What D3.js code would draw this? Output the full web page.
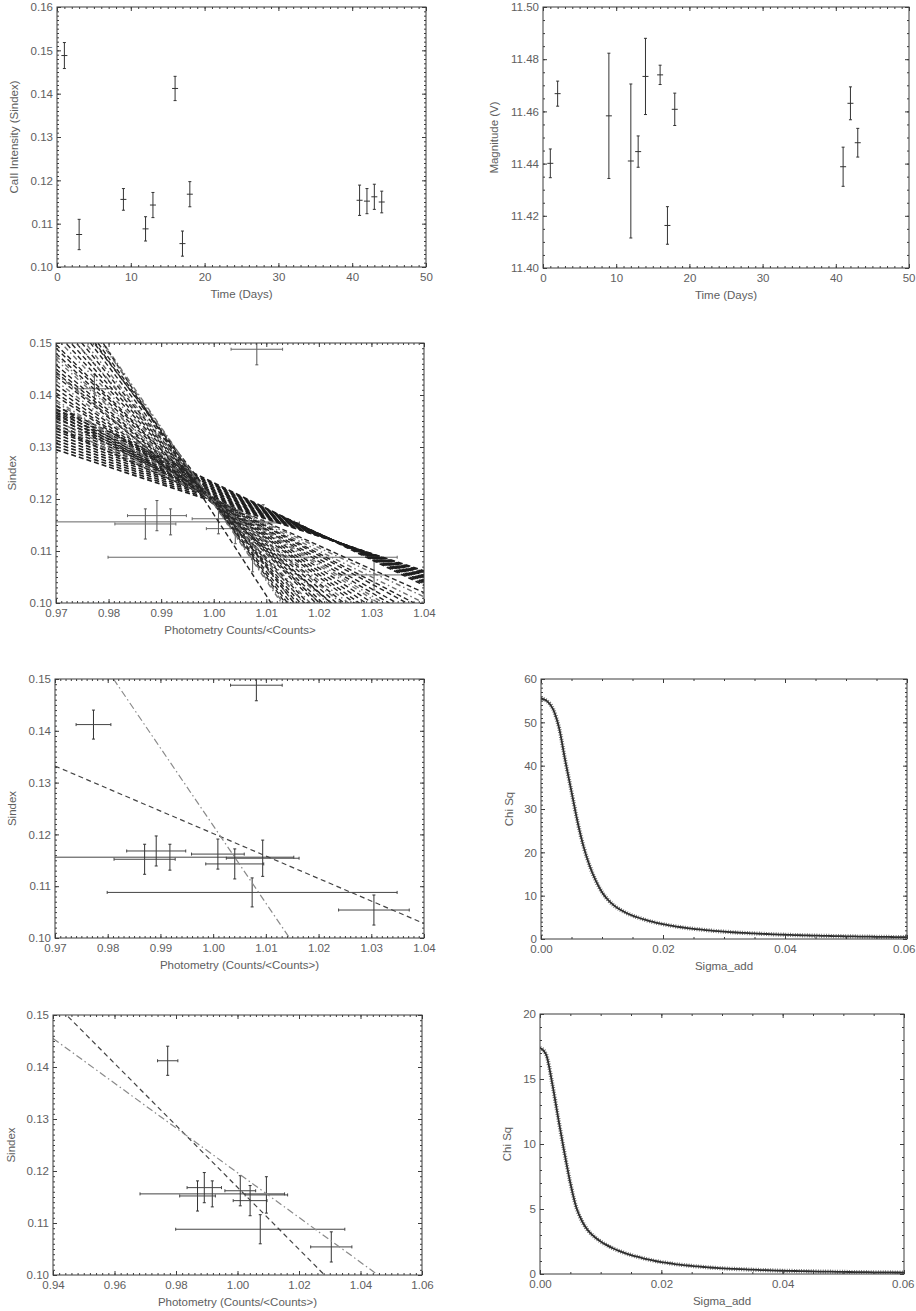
<!DOCTYPE html>
<html>
<head>
<meta charset="utf-8">
<script src="https://cdn.jsdelivr.net/npm/d3@7"></script>
<style>
  html, body { margin: 0; padding: 0; background: #fff; overflow: hidden; }
  svg { display: block; }
</style>
</head>
<body>
<script>
// ---------- Ca II S-index time series ----------
const sTime  = [1, 3, 9, 12, 13, 16, 17, 18, 41, 42, 43, 44];
const sIndex = [0.1488, 0.1075, 0.1156, 0.1088, 0.1143, 0.1412, 0.1054, 0.1168, 0.1154, 0.1152, 0.1162, 0.1150];
const sErr   = [0.0030, 0.0035, 0.0025, 0.0028, 0.0029, 0.0028, 0.0029, 0.0029, 0.0035, 0.0029, 0.0029, 0.0025];

// ---------- V magnitude time series ----------
const vTime = [1, 2, 9, 12, 13, 14, 16, 17, 18, 41, 42, 43];
const vMag  = [11.4401, 11.4668, 11.4583, 11.4410, 11.4446, 11.4734, 11.4740, 11.4163, 11.4608, 11.4388, 11.4631, 11.4480];
const vErr  = [0.0055, 0.0048, 0.0240, 0.0295, 0.0060, 0.0146, 0.0037, 0.0072, 0.0062, 0.0075, 0.0063, 0.0055];

// ---------- S-index vs relative photometry (nights with both) ----------
const photRatio = [1.0082, 0.9918, 1.0074, 1.0041, 0.9773, 1.0305, 0.9892, 1.0094, 0.9870, 1.0009];
const photErr   = [0.0049, 0.0235, 0.0275, 0.0055, 0.0033, 0.0067, 0.0056, 0.0069, 0.0058, 0.0050];
const photS     = [0.1488, 0.1156, 0.1088, 0.1143, 0.1412, 0.1054, 0.1168, 0.1154, 0.1152, 0.1162];
const photSErr  = [0.0030, 0.0025, 0.0028, 0.0029, 0.0028, 0.0029, 0.0029, 0.0035, 0.0029, 0.0029];
// the 0.149 outlier is left out of the second fit
const keepSecondFit = [false, true, true, true, true, true, true, true, true, true];

// ---------- trial fits: S-index at x = 0.97 and at x = 1.04 ----------
// first 15 are the tight shallow band, the rest fan out through x ~ 1.00
const trialLeft = [
  0.1295, 0.1301, 0.1307, 0.1313, 0.1319, 0.1325, 0.1331, 0.1337, 0.1343, 0.1349,
  0.1355, 0.1361, 0.1367, 0.1373, 0.1379,
  0.1336, 0.1351, 0.1365, 0.1380, 0.1390, 0.1404, 0.1412, 0.1427, 0.1436, 0.1450,
  0.1468, 0.1480, 0.1497, 0.1510, 0.1532, 0.1545, 0.1570, 0.1586, 0.1612, 0.1633,
  0.1640, 0.1444, 0.1475, 0.1520, 0.1560,
  0.1342, 0.1358, 0.1372, 0.1386, 0.1398, 0.1420, 0.1441, 0.1458, 0.1490, 0.1545,
  0.1595, 0.1602, 0.1625
];
const trialRight = [
  0.1062, 0.1060, 0.1059, 0.1057, 0.1055, 0.1053, 0.1052, 0.1050, 0.1048, 0.1046,
  0.1044, 0.1042, 0.1040, 0.1037, 0.1034,
  0.1020, 0.1000, 0.0982, 0.0960, 0.0945, 0.0924, 0.0912, 0.0890, 0.0879, 0.0860,
  0.0834, 0.0818, 0.0793, 0.0772, 0.0744, 0.0724, 0.0690, 0.0667, 0.0630, 0.0600,
  0.0545, 0.0850, 0.0812, 0.0760, 0.0705,
  0.1012, 0.0990, 0.0970, 0.0952, 0.0935, 0.0902, 0.0872, 0.0846, 0.0805, 0.0735,
  0.0675, 0.0645, 0.0612
];
const trialX = [0.97, 1.04];

// ---------- final fits: [x1, y1, x2, y2] ----------
const fitAllDashed   = [0.9700, 0.1332, 1.0400, 0.1028];
const fitAllDashDot  = [0.9811, 0.1500, 1.0145, 0.1000];
const fitCutDashed   = [0.9449, 0.1497, 1.0283, 0.1000];
const fitCutDashDot  = [0.9400, 0.1455, 1.0457, 0.1000];

// ---------- chi-square vs added scatter ----------
const sigmaAdd = [
  0.000, 0.001, 0.002, 0.003, 0.004, 0.005, 0.006, 0.007, 0.008, 0.009,
  0.010, 0.011, 0.012, 0.013, 0.014, 0.015, 0.016, 0.017, 0.018, 0.019,
  0.020, 0.021, 0.022, 0.023, 0.024, 0.025, 0.026, 0.027, 0.028, 0.029,
  0.030, 0.031, 0.032, 0.033, 0.034, 0.035, 0.036, 0.037, 0.038, 0.039,
  0.040, 0.041, 0.042, 0.043, 0.044, 0.045, 0.046, 0.047, 0.048, 0.049,
  0.050, 0.051, 0.052, 0.053, 0.054, 0.055, 0.056, 0.057, 0.058, 0.059, 0.060
];
const chiAll = [
  55.5, 54.9, 53.0, 48.5, 41.0, 34.0, 27.0, 21.2, 16.8, 13.4,
  10.8, 9.0, 7.7, 6.75, 6.0, 5.4, 4.9, 4.45, 4.05, 3.72,
  3.42, 3.16, 2.92, 2.71, 2.52, 2.35, 2.2, 2.05, 1.92, 1.8,
  1.7, 1.6, 1.5, 1.42, 1.35, 1.28, 1.21, 1.15, 1.09, 1.03,
  0.98, 0.93, 0.89, 0.85, 0.81, 0.77, 0.74, 0.71, 0.68, 0.65,
  0.62, 0.60, 0.57, 0.55, 0.53, 0.51, 0.49, 0.47, 0.45, 0.44, 0.42
];
const chiCut = [
  17.4, 16.9, 14.7, 12.0, 9.4, 7.0, 5.1, 4.0, 3.3, 2.85,
  2.5, 2.22, 1.98, 1.78, 1.61, 1.46, 1.33, 1.21, 1.10, 1.00,
  0.92, 0.85, 0.78, 0.72, 0.67, 0.62, 0.58, 0.54, 0.50, 0.47,
  0.44, 0.41, 0.39, 0.37, 0.35, 0.33, 0.31, 0.295, 0.28, 0.265,
  0.25, 0.24, 0.23, 0.22, 0.21, 0.20, 0.19, 0.182, 0.175, 0.168,
  0.16, 0.154, 0.148, 0.142, 0.137, 0.132, 0.127, 0.122, 0.118, 0.114, 0.11
];

// ---------- axis tick labels ----------
const timeTicks   = [0, 10, 20, 30, 40, 50];
const sTicks      = [0.10, 0.11, 0.12, 0.13, 0.14, 0.15, 0.16];
const sTicksShort = [0.10, 0.11, 0.12, 0.13, 0.14, 0.15];
const magTicks    = [11.40, 11.42, 11.44, 11.46, 11.48, 11.50];
const photTicks   = [0.97, 0.98, 0.99, 1.00, 1.01, 1.02, 1.03, 1.04];
const photTicksWide = [0.94, 0.96, 0.98, 1.00, 1.02, 1.04, 1.06];
const sigTicks    = [0.00, 0.02, 0.04, 0.06];
const chiTicksAll = [0, 10, 20, 30, 40, 50, 60];
const chiTicksCut = [0, 5, 10, 15, 20];

// ---------- drawing ----------
const FONT = "'Liberation Sans', Arial, sans-serif";
const FS = 11.5;
const AXIS = "#3c3c3c";
const LABEL = "#5e5e5e";
const svg = d3.select("body").append("svg").attr("width", 916).attr("height", 1311);

function minorValues(domain, step) {
  const lo = Math.min(domain[0], domain[1]), hi = Math.max(domain[0], domain[1]);
  const n = Math.round((hi - lo) / step);
  return d3.range(n + 1).map(i => lo + i * step);
}

function panel(o) {
  const g = svg.append("g");
  const x = d3.scaleLinear().domain(o.xDomain).range([o.left, o.right]);
  const y = d3.scaleLinear().domain(o.yDomain).range([o.bottom, o.top]);
  const clipId = "clip-" + o.id;
  svg.append("clipPath").attr("id", clipId).append("rect")
    .attr("x", o.left).attr("y", o.top)
    .attr("width", o.right - o.left).attr("height", o.bottom - o.top);
  const plot = g.append("g").attr("clip-path", `url(#${clipId})`);

  const axes = g.append("g");
  function put(axisFn, scale, values, size, fmt, tr) {
    const ax = axisFn(scale).tickValues(values).tickSizeInner(size).tickSizeOuter(0)
      .tickPadding(axisFn === d3.axisLeft ? 4 : 6).tickFormat(fmt || (() => ""));
    const s = axes.append("g").attr("transform", tr).call(ax);
    s.select(".domain").remove();
    s.selectAll("line").attr("stroke", AXIS).attr("stroke-width", 1);
    s.selectAll("text").attr("fill", LABEL).attr("font-size", FS).attr("font-family", FONT);
    return s;
  }
  const xMin = minorValues(o.xDomain, o.xMinor);
  const yMin = minorValues(o.yDomain, o.yMinor);
  [[d3.axisBottom, `translate(0,${o.bottom})`, true], [d3.axisTop, `translate(0,${o.top})`, false]]
    .forEach(([fn, tr, lab]) => {
      put(fn, x, xMin, -2, null, tr);
      const s = put(fn, x, o.xTicks, -4, lab ? o.xFmt : null, tr);
      // keep the last label inside the page
      if (lab) s.selectAll("text").filter(d => x(d) > 900).attr("text-anchor", "end").attr("dx", 915 - x(o.xTicks[o.xTicks.length - 1]) > 10 ? 10 : 915 - x(o.xTicks[o.xTicks.length - 1]));
    });
  [[d3.axisLeft, `translate(${o.left},0)`, true], [d3.axisRight, `translate(${o.right},0)`, false]]
    .forEach(([fn, tr, lab]) => {
      put(fn, y, yMin, -2, null, tr);
      put(fn, y, o.yTicks, -4, lab ? o.yFmt : null, tr);
    });
  axes.append("rect").attr("x", o.left).attr("y", o.top)
    .attr("width", o.right - o.left).attr("height", o.bottom - o.top)
    .attr("fill", "none").attr("stroke", AXIS).attr("stroke-width", 1);

  axes.append("text").attr("x", (o.left + o.right) / 2).attr("y", o.bottom + 31)
    .attr("text-anchor", "middle").attr("font-size", FS).attr("font-family", FONT)
    .attr("fill", LABEL).text(o.xTitle);
  axes.append("text")
    .attr("transform", `translate(${o.yTitleX},${(o.top + o.bottom) / 2}) rotate(-90)`)
    .attr("text-anchor", "middle").attr("font-size", FS).attr("font-family", FONT)
    .attr("fill", LABEL).text(o.yTitle);
  return { x, y, plot };
}

function errBars(p, xs, ys, yerr, xerr, opts) {
  const cap = opts.cap, col = opts.color;
  const gg = p.plot.append("g").attr("stroke", col).attr("stroke-width", 1).attr("fill", "none");
  xs.forEach((xv, i) => {
    const cx = p.x(xv), cy = p.y(ys[i]);
    const y0 = p.y(ys[i] - yerr[i]), y1 = p.y(ys[i] + yerr[i]);
    gg.append("line").attr("x1", cx).attr("x2", cx).attr("y1", y0).attr("y2", y1);
    gg.append("line").attr("x1", cx - cap).attr("x2", cx + cap).attr("y1", y0).attr("y2", y0);
    gg.append("line").attr("x1", cx - cap).attr("x2", cx + cap).attr("y1", y1).attr("y2", y1);
    if (xerr) {
      const x0 = p.x(xv - xerr[i]), x1 = p.x(xv + xerr[i]);
      gg.append("line").attr("x1", x0).attr("x2", x1).attr("y1", cy).attr("y2", cy)
        .attr("stroke", opts.hcolor || col);
      gg.append("line").attr("x1", x0).attr("x2", x0).attr("y1", cy - cap).attr("y2", cy + cap)
        .attr("stroke", opts.hcolor || col);
      gg.append("line").attr("x1", x1).attr("x2", x1).attr("y1", cy - cap).attr("y2", cy + cap)
        .attr("stroke", opts.hcolor || col);
    } else {
      gg.append("line").attr("x1", cx - 3).attr("x2", cx + 3).attr("y1", cy).attr("y2", cy);
    }
  });
}

function fitLine(p, seg, dash, color, width) {
  p.plot.append("line")
    .attr("x1", p.x(seg[0])).attr("y1", p.y(seg[1]))
    .attr("x2", p.x(seg[2])).attr("y2", p.y(seg[3]))
    .attr("stroke", color).attr("stroke-width", width).attr("stroke-dasharray", dash);
}

function chiCurve(p, xs, ys) {
  const line = d3.line().x((d, i) => p.x(xs[i])).y(d => p.y(d)).curve(d3.curveMonotoneX);
  p.plot.append("path").datum(ys).attr("d", line)
    .attr("fill", "none").attr("stroke", "#2a2a2a").attr("stroke-width", 1.8);
  p.plot.append("path").datum(ys).attr("d", line)
    .attr("fill", "none").attr("stroke", "#3a3a3a").attr("stroke-width", 4.2)
    .attr("stroke-dasharray", "0.8,1.6").attr("opacity", 0.8);
}

const f2 = d3.format(".2f");
const f0 = d3.format("d");

// 1. S-index vs time
const p1 = panel({
  id: 1, left: 57, right: 426, top: 7, bottom: 267,
  xDomain: [0, 50], yDomain: [0.10, 0.16], xTicks: timeTicks, yTicks: sTicks,
  xMinor: 1, yMinor: 0.001, xFmt: f0, yFmt: f2,
  xTitle: "Time (Days)", yTitle: "CaII Intensity (Sindex)", yTitleX: 18
});
errBars(p1, sTime, sIndex, sErr, null, { cap: 1.5, color: "#333" });

// 2. magnitude vs time
const p2 = panel({
  id: 2, left: 543, right: 909, top: 7, bottom: 268,
  xDomain: [0, 50], yDomain: [11.40, 11.50], xTicks: timeTicks, yTicks: magTicks,
  xMinor: 1, yMinor: 0.005, xFmt: f0, yFmt: f2,
  xTitle: "Time (Days)", yTitle: "Magnitude (V)", yTitleX: 498
});
errBars(p2, vTime, vMag, vErr, null, { cap: 1.5, color: "#333" });

// 3. S-index vs photometry with the family of trial fits
const p3 = panel({
  id: 3, left: 56, right: 424, top: 343, bottom: 603,
  xDomain: [0.97, 1.04], yDomain: [0.10, 0.15], xTicks: photTicks, yTicks: sTicksShort,
  xMinor: 0.001, yMinor: 0.001, xFmt: f2, yFmt: f2,
  xTitle: "Photometry Counts/<Counts>", yTitle: "Sindex", yTitleX: 16
});
errBars(p3, photRatio, photS, photSErr, photErr, { cap: 1.5, color: "#555", hcolor: "#666" });
trialLeft.forEach((yl, i) => {
  const band = i < 15;
  const light = !band && i % 3 === 1;
  fitLine(p3, [trialX[0], yl, trialX[1], trialRight[i]],
    light ? "5,3,1.5,3" : "5,3",
    band ? "#1e1e1e" : (light ? "#707070" : "#262626"),
    band ? 1.6 : 1.4);
});

// 4. all points with the two fits
const p4 = panel({
  id: 4, left: 55, right: 424, top: 679, bottom: 938,
  xDomain: [0.97, 1.04], yDomain: [0.10, 0.15], xTicks: photTicks, yTicks: sTicksShort,
  xMinor: 0.001, yMinor: 0.001, xFmt: f2, yFmt: f2,
  xTitle: "Photometry (Counts/<Counts>)", yTitle: "Sindex", yTitleX: 16
});
errBars(p4, photRatio, photS, photSErr, photErr, { cap: 1.5, color: "#333", hcolor: "#444" });
fitLine(p4, fitAllDashed, "5,3.5", "#444", 1.2);
fitLine(p4, fitAllDashDot, "7,3,1.5,3", "#8a8a8a", 1.2);

// 5. without the outlier, wider range
const keep = photRatio.map((d, i) => keepSecondFit[i]);
const p5 = panel({
  id: 5, left: 53, right: 422, top: 1015, bottom: 1275,
  xDomain: [0.94, 1.06], yDomain: [0.10, 0.15], xTicks: photTicksWide, yTicks: sTicksShort,
  xMinor: 0.002, yMinor: 0.001, xFmt: f2, yFmt: f2,
  xTitle: "Photometry (Counts/<Counts>)", yTitle: "Sindex", yTitleX: 15
});
errBars(p5,
  photRatio.filter((d, i) => keep[i]), photS.filter((d, i) => keep[i]),
  photSErr.filter((d, i) => keep[i]), photErr.filter((d, i) => keep[i]),
  { cap: 1.5, color: "#333", hcolor: "#444" });
fitLine(p5, fitCutDashed, "5,3.5", "#444", 1.2);
fitLine(p5, fitCutDashDot, "7,3,1.5,3", "#8a8a8a", 1.2);

// 6. chi-square, all points
const p6 = panel({
  id: 6, left: 541, right: 907, top: 679, bottom: 939,
  xDomain: [0, 0.06], yDomain: [0, 60], xTicks: sigTicks, yTicks: chiTicksAll,
  xMinor: 0.005, yMinor: 1, xFmt: f2, yFmt: f0,
  xTitle: "Sigma_add", yTitle: "Chi Sq", yTitleX: 513
});
chiCurve(p6, sigmaAdd, chiAll);

// 7. chi-square, outlier removed
const p7 = panel({
  id: 7, left: 540, right: 904, top: 1014, bottom: 1274,
  xDomain: [0, 0.06], yDomain: [0, 20], xTicks: sigTicks, yTicks: chiTicksCut,
  xMinor: 0.005, yMinor: 1, xFmt: f2, yFmt: f0,
  xTitle: "Sigma_add", yTitle: "Chi Sq", yTitleX: 511
});
chiCurve(p7, sigmaAdd, chiCut);
</script>
</body>
</html>
